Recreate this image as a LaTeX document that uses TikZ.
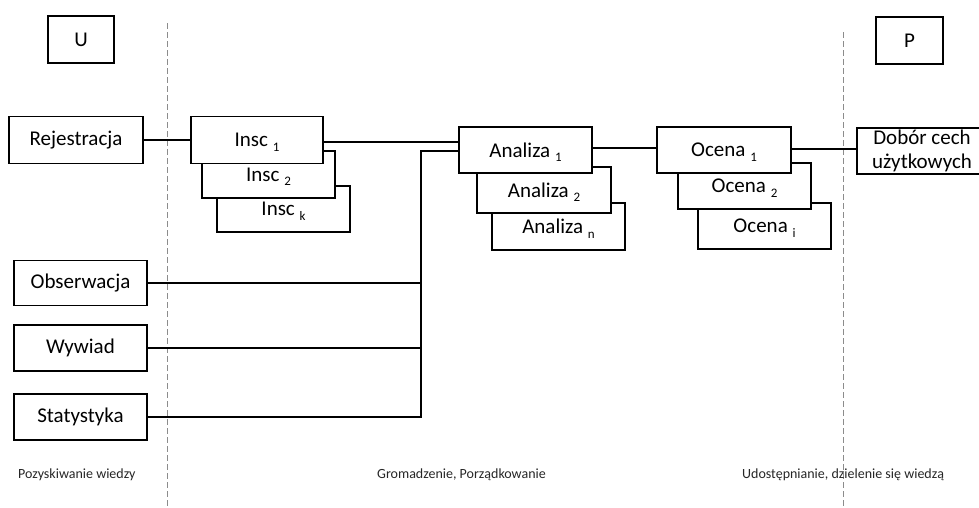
\documentclass[tikz,border=0pt]{standalone}
\usepackage{fontspec}
\setmainfont{Carlito}
\newcommand{\subidx}[1]{\smash{\raisebox{-0.45ex}{\fontsize{13}{13}\selectfont #1}}}
\begin{document}
\begin{tikzpicture}[x=1pt,y=-1pt,
  box/.style={draw=black,fill=white,line width=1.6pt,inner sep=0pt,font=\fontsize{21}{23}\selectfont,align=center},
  conn/.style={line width=1.6pt},
  divider/.style={draw=black!45,line width=0.9pt,dash pattern=on 6pt off 3pt},
  lbl/.style={font=\fontsize{14}{16}\selectfont,text=black!85,anchor=west,inner sep=0pt}]
\useasboundingbox (0,0) rectangle (979,507);
\clip (0,0) rectangle (979,507);
% dividers
\coordinate (d1t) at (167,23); \coordinate (d1b) at (167,507);
\coordinate (d2t) at (843,32); \coordinate (d2b) at (843,507);
\draw[divider] (d1t) -- (d1b);
\draw[divider] (d2t) -- (d2b);
% top boxes
\node[box,minimum width=66pt,minimum height=47pt] (u) at (81,39.5) {U};
\node[box,minimum width=67pt,minimum height=47pt] (p) at (909.5,40.5) {P};
% left boxes
\node[box,minimum width=134pt,minimum height=47pt] (rej) at (76,140) {Rejestracja};
\node[box,minimum width=133pt,minimum height=45pt] (obs) at (80.5,283) {Obserwacja};
\node[box,minimum width=133pt,minimum height=46pt] (wyw) at (80.5,348) {Wywiad};
\node[box,minimum width=133pt,minimum height=46pt] (stat) at (80.5,417) {Statystyka};
% Insc stack
\node[box,minimum width=133pt,minimum height=46pt] (insck) at (283.5,209) {Insc \subidx{k}};
\node[box,minimum width=133pt,minimum height=47pt] (insc2) at (268.5,174.5) {Insc \subidx{2}};
\node[box,minimum width=132pt,minimum height=47pt] (insc1) at (257,140) {Insc \subidx{1}};
% Analiza stack
\node[box,minimum width=133pt,minimum height=47pt] (anan) at (558.5,226.5) {Analiza \subidx{n}};
\node[box,minimum width=134pt,minimum height=46pt] (ana2) at (544,190) {Analiza \subidx{2}};
\node[box,minimum width=133pt,minimum height=46pt] (ana1) at (525.5,150) {Analiza \subidx{1}};
% Ocena stack
\node[box,minimum width=133pt,minimum height=46pt] (oci) at (764.5,226) {Ocena \subidx{i}};
\node[box,minimum width=133pt,minimum height=46pt] (oc2) at (744.5,186) {Ocena \subidx{2}};
\node[box,minimum width=134pt,minimum height=46pt] (oc1) at (724,150) {Ocena \subidx{1}};
% Dobor
\node[box,minimum width=130pt,minimum height=46pt,font=\fontsize{21}{24}\selectfont] (dob) at (922,151) {Dobór cech\\użytkowych};
% connectors
\coordinate (bus) at (421,151);
\draw[conn] (rej.east) -- (insc1.west);
\draw[conn] ([yshift=-2pt]insc1.east) -- ([yshift=-2pt]insc1.east -| ana1.west);
\draw[conn] (ana1.west |- bus) -- (bus) -- (bus |- stat.east) -- (stat.east);
\draw[conn] (obs.east) -- (obs.east -| bus);
\draw[conn] (wyw.east) -- (wyw.east -| bus);
\draw[conn] ([yshift=2pt]ana1.east) -- ([yshift=2pt]ana1.east -| oc1.west);
\draw[conn] ([yshift=1pt]oc1.east) -- ([yshift=1pt]oc1.east -| dob.west);
% phase labels
\node[lbl] (l1) at (18,475) {Pozyskiwanie wiedzy};
\node[lbl] (l2) at (377,475) {Gromadzenie, Porządkowanie};
\node[lbl] (l3) at (742,475) {Udostępnianie, dzielenie się wiedzą};
\end{tikzpicture}
\end{document}
